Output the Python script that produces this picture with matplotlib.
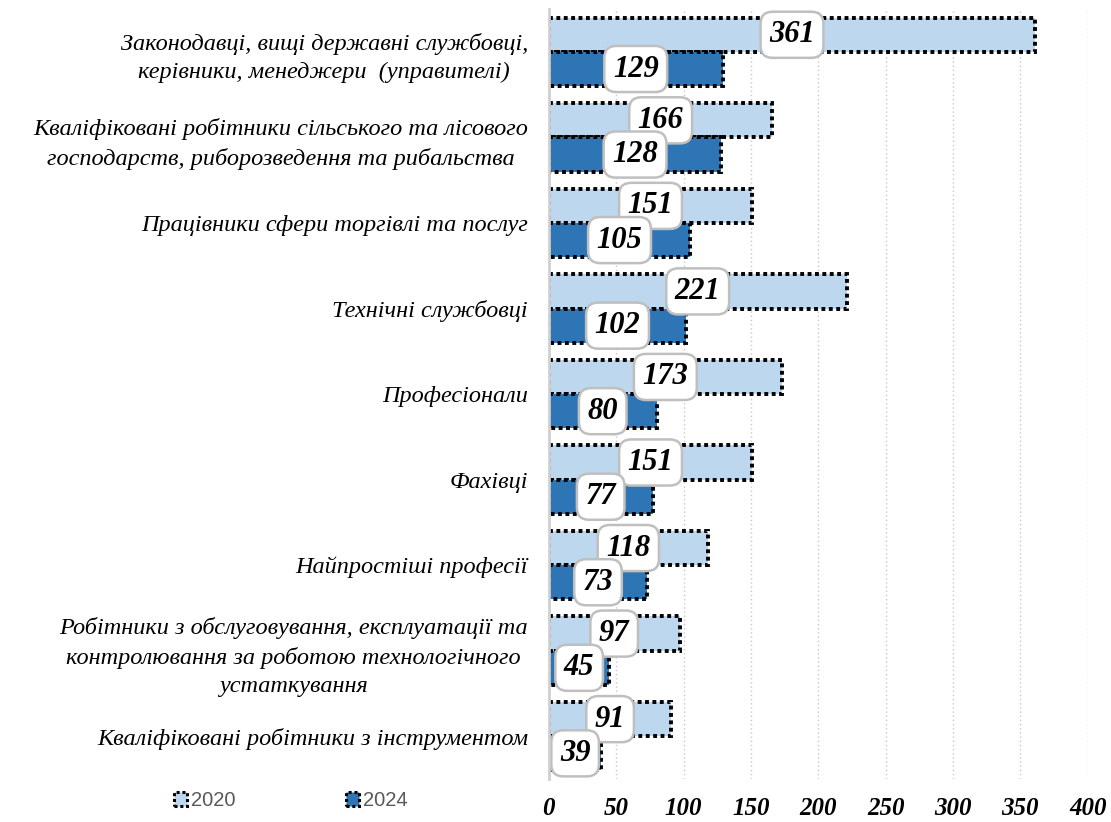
import numpy as np
import matplotlib.pyplot as plt
from matplotlib.patches import Patch

categories = [
    "Законодавці, вищі державні службовці,\nкерівники, менеджери  (управителі)",
    "Кваліфіковані робітники сільського та лісового\nгосподарств, риборозведення та рибальства",
    "Працівники сфери торгівлі та послуг",
    "Технічні службовці",
    "Професіонали",
    "Фахівці",
    "Найпростіші професії",
    "Робітники з обслуговування, експлуатації та\nконтролювання за роботою технологічного\nустаткування",
    "Кваліфіковані робітники з інструментом",
]
values_2020 = [361, 166, 151, 221, 173, 151, 118, 97, 91]
values_2024 = [129, 128, 105, 102, 80, 77, 73, 45, 39]
series_names = ["2020", "2024"]
x_ticks = [0, 50, 100, 150, 200, 250, 300, 350, 400]

color_2020 = "#BDD7EE"
color_2024 = "#2E75B6"
dots = (0, (1, 0.9))

fig = plt.figure(figsize=(11.11, 8.22), dpi=100)
ax = fig.add_axes([0.494, 0.0523, 0.485, 0.9366])

y = np.arange(len(categories))
h = 0.40
bars_a = ax.barh(y - h / 2, values_2020, height=h, color=color_2020,
                 edgecolor="black", linewidth=2.8, linestyle=dots, zorder=2)
bars_b = ax.barh(y + h / 2, values_2024, height=h, color=color_2024,
                 edgecolor="black", linewidth=2.8, linestyle=dots, zorder=2)

box = dict(boxstyle="round,pad=0.28,rounding_size=0.4", facecolor="white",
           edgecolor="#BFBFBF", linewidth=1.8)
for bars, vals in ((bars_a, values_2020), (bars_b, values_2024)):
    for b, v in zip(bars, vals):
        ax.text(v / 2, b.get_y() + b.get_height() / 2, str(v), ha="center", va="center",
                fontsize=22, fontweight="bold", fontstyle="italic",
                family="Liberation Serif", bbox=box, zorder=4)

ax.set_xlim(0, 400)
ax.set_ylim(len(categories) - 0.5, -0.5)
ax.set_xticks(x_ticks)
ax.set_xticklabels([str(t) for t in x_ticks], fontsize=18, fontweight="bold",
                   fontstyle="italic", family="Liberation Serif")
ax.set_yticks(y)
ax.set_yticklabels(categories, fontsize=17.5, fontstyle="italic", family="Liberation Serif",
                   multialignment="center", linespacing=1.45)
ax.tick_params(axis="both", length=0)
ax.tick_params(axis="y", pad=15)
ax.tick_params(axis="x", pad=13)

ax.grid(axis="x", color="#C8C8C8", linestyle=(0, (1, 2)), linewidth=1, zorder=0)
ax.set_axisbelow(True)
for s in ("top", "right", "bottom"):
    ax.spines[s].set_visible(False)
ax.spines["left"].set_color("#D0D0D0")
ax.spines["left"].set_linewidth(2)
ax.spines["left"].set_zorder(5)

handles = [Patch(facecolor=color_2020, edgecolor="black", linewidth=2.2, linestyle=dots),
           Patch(facecolor=color_2024, edgecolor="black", linewidth=2.2, linestyle=dots)]
fig.legend(handles, series_names, loc="center left", bbox_to_anchor=(0.14, 0.026),
           ncol=2, frameon=False, handlelength=0.65, handleheight=0.65,
           handletextpad=0.2, columnspacing=5.5,
           prop={"family": "Liberation Sans", "size": 14.5}, labelcolor="#595959")

fig.savefig("out.png", dpi=100)
